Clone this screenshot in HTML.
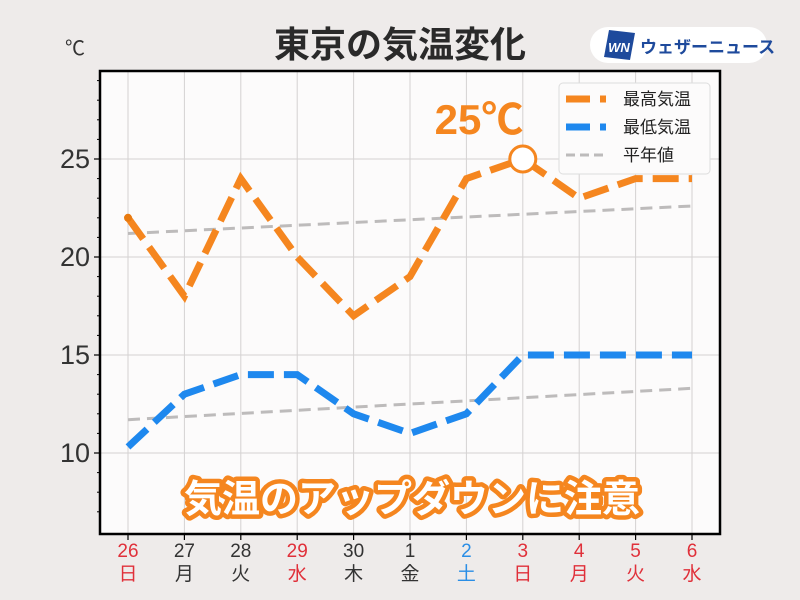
<!DOCTYPE html>
<html><head><meta charset="utf-8"><style>
body{margin:0;width:800px;height:600px;background:#eeebea;overflow:hidden}
svg{display:block}
text{font-family:"Liberation Sans","Noto Sans CJK JP",sans-serif}
</style></head><body>
<svg width="800" height="600" viewBox="0 0 800 600">
<rect x="100" y="71" width="620" height="463" fill="#fcfbfb"/>
<g stroke="#d4d2d2" stroke-width="1">
<line x1="128" y1="71" x2="128" y2="534"/><line x1="184.4" y1="71" x2="184.4" y2="534"/><line x1="240.8" y1="71" x2="240.8" y2="534"/><line x1="297.2" y1="71" x2="297.2" y2="534"/><line x1="353.6" y1="71" x2="353.6" y2="534"/><line x1="410" y1="71" x2="410" y2="534"/><line x1="466.4" y1="71" x2="466.4" y2="534"/><line x1="522.8" y1="71" x2="522.8" y2="534"/><line x1="579.2" y1="71" x2="579.2" y2="534"/><line x1="635.6" y1="71" x2="635.6" y2="534"/><line x1="692" y1="71" x2="692" y2="534"/>
<line x1="100" y1="159" x2="720" y2="159"/><line x1="100" y1="257" x2="720" y2="257"/><line x1="100" y1="355" x2="720" y2="355"/><line x1="100" y1="453" x2="720" y2="453"/>
</g>
<g fill="none" stroke="#bdbbbb" stroke-width="3" stroke-dasharray="12,7">
<line x1="128" y1="233.5" x2="692" y2="206"/>
<line x1="128" y1="419.7" x2="692" y2="388.3"/>
</g>
<polyline fill="none" stroke="#f5861f" stroke-width="7" stroke-dasharray="26,10" points="128,217.8 184.4,296.2 240.8,178.6 297.2,257 353.6,315.8 410,276.6 466.4,178.6 522.8,159 579.2,198.2 635.6,178.6 692,178.6"/>
<circle cx="128" cy="217.8" r="4" fill="#e87a10"/>
<polyline fill="none" stroke="#1e88ee" stroke-width="7" stroke-dasharray="26,10" points="128,446.9 184.4,394.2 240.8,374.6 297.2,374.6 353.6,413.8 410,433.4 466.4,413.8 522.8,355 579.2,355 635.6,355 692,355"/>
<circle cx="522.8" cy="159" r="13" fill="#fff" stroke="#f5861f" stroke-width="3"/>
<text x="479" y="134" font-size="42" font-weight="bold" fill="#f5861f" text-anchor="middle">25℃</text>
<rect x="100" y="71" width="620" height="463" fill="none" stroke="#000" stroke-width="2.5"/>
<g stroke="#000" stroke-width="1.2">
<line x1="94" y1="159" x2="100" y2="159"/><line x1="94" y1="257" x2="100" y2="257"/><line x1="94" y1="355" x2="100" y2="355"/><line x1="94" y1="453" x2="100" y2="453"/>
</g>
<g stroke="#000" stroke-width="1">
<line x1="97" y1="80.6" x2="100" y2="80.6"/><line x1="97" y1="100.2" x2="100" y2="100.2"/><line x1="97" y1="119.8" x2="100" y2="119.8"/><line x1="97" y1="139.4" x2="100" y2="139.4"/>
<line x1="97" y1="178.6" x2="100" y2="178.6"/><line x1="97" y1="198.2" x2="100" y2="198.2"/><line x1="97" y1="217.8" x2="100" y2="217.8"/><line x1="97" y1="237.4" x2="100" y2="237.4"/>
<line x1="97" y1="276.6" x2="100" y2="276.6"/><line x1="97" y1="296.2" x2="100" y2="296.2"/><line x1="97" y1="315.8" x2="100" y2="315.8"/><line x1="97" y1="335.4" x2="100" y2="335.4"/>
<line x1="97" y1="374.6" x2="100" y2="374.6"/><line x1="97" y1="394.2" x2="100" y2="394.2"/><line x1="97" y1="413.8" x2="100" y2="413.8"/><line x1="97" y1="433.4" x2="100" y2="433.4"/>
<line x1="97" y1="472.6" x2="100" y2="472.6"/><line x1="97" y1="492.2" x2="100" y2="492.2"/><line x1="97" y1="511.8" x2="100" y2="511.8"/>
</g>
<g stroke="#000" stroke-width="1.2">
<line x1="128" y1="534" x2="128" y2="540"/><line x1="184.4" y1="534" x2="184.4" y2="540"/><line x1="240.8" y1="534" x2="240.8" y2="540"/><line x1="297.2" y1="534" x2="297.2" y2="540"/><line x1="353.6" y1="534" x2="353.6" y2="540"/><line x1="410" y1="534" x2="410" y2="540"/><line x1="466.4" y1="534" x2="466.4" y2="540"/><line x1="522.8" y1="534" x2="522.8" y2="540"/><line x1="579.2" y1="534" x2="579.2" y2="540"/><line x1="635.6" y1="534" x2="635.6" y2="540"/><line x1="692" y1="534" x2="692" y2="540"/>
</g>
<g font-size="27" fill="#333" text-anchor="end">
<text x="90" y="168">25</text><text x="90" y="266">20</text><text x="90" y="364">15</text><text x="90" y="462">10</text>
</g>
<text x="65" y="55" font-size="20" fill="#333">℃</text>
<g font-size="19" text-anchor="middle">
<text x="128" y="557" fill="#e0303a">26</text><text x="128" y="580" fill="#e0303a">日</text>
<text x="184.4" y="557" fill="#333">27</text><text x="184.4" y="580" fill="#333">月</text>
<text x="240.8" y="557" fill="#333">28</text><text x="240.8" y="580" fill="#333">火</text>
<text x="297.2" y="557" fill="#e0303a">29</text><text x="297.2" y="580" fill="#e0303a">水</text>
<text x="353.6" y="557" fill="#333">30</text><text x="353.6" y="580" fill="#333">木</text>
<text x="410" y="557" fill="#333">1</text><text x="410" y="580" fill="#333">金</text>
<text x="466.4" y="557" fill="#2a8ee6">2</text><text x="466.4" y="580" fill="#2a8ee6">土</text>
<text x="522.8" y="557" fill="#e0303a">3</text><text x="522.8" y="580" fill="#e0303a">日</text>
<text x="579.2" y="557" fill="#e0303a">4</text><text x="579.2" y="580" fill="#e0303a">月</text>
<text x="635.6" y="557" fill="#e0303a">5</text><text x="635.6" y="580" fill="#e0303a">火</text>
<text x="692" y="557" fill="#e0303a">6</text><text x="692" y="580" fill="#e0303a">水</text>
</g>
<text x="400" y="57" font-size="36" font-weight="bold" fill="#2a2a2a" text-anchor="middle">東京の気温変化</text>
<rect x="590" y="27" width="177" height="36" rx="18" fill="#fff"/>
<polygon points="609,30 635,33 630,60 604,57" fill="#1e4a9c"/>
<text x="619" y="52" font-size="13" font-weight="bold" font-style="italic" fill="#fff" text-anchor="middle">WN</text>
<text x="640" y="53" font-size="17" font-weight="bold" fill="#1e4a9c">ウェザーニュース</text>
<rect x="559" y="83" width="151" height="91" rx="4" fill="#fcfbfb" stroke="#ddd" stroke-width="1"/>
<line x1="566" y1="99" x2="606" y2="99" stroke="#f5861f" stroke-width="7" stroke-dasharray="24,10"/>
<line x1="566" y1="127" x2="606" y2="127" stroke="#1e88ee" stroke-width="7" stroke-dasharray="24,10"/>
<line x1="566" y1="155" x2="606" y2="155" stroke="#bdbbbb" stroke-width="3" stroke-dasharray="9,5"/>
<g font-size="17" fill="#222"><text x="623" y="105">最高気温</text><text x="623" y="133">最低気温</text><text x="623" y="161">平年値</text></g>
<text x="412" y="512" font-size="38" font-weight="bold" fill="#fff" stroke="#f5861f" stroke-width="9" stroke-linejoin="round" paint-order="stroke" text-anchor="middle">気温のアップダウンに注意</text>
</svg>
</body></html>
